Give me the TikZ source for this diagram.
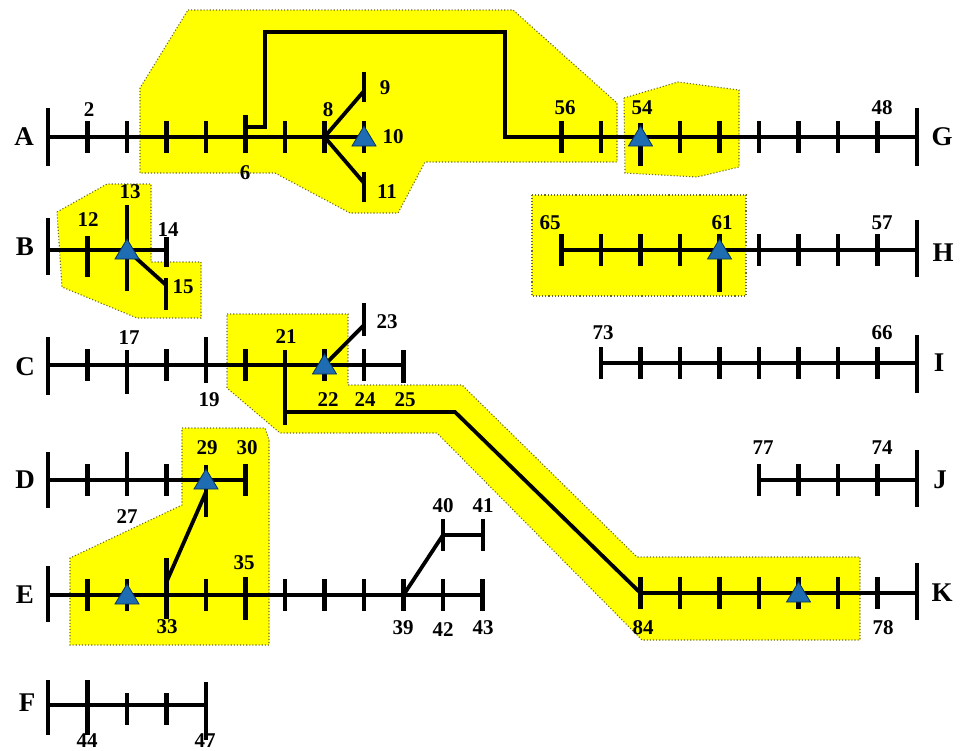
\documentclass[tikz,border=0pt]{standalone}
\usepackage{fontspec}
\setmainfont{Liberation Serif}
\usetikzlibrary{calc}
\definecolor{genblue}{RGB}{30,108,178}
\definecolor{genedge}{RGB}{10,50,90}
\definecolor{zoneedge}{RGB}{105,105,40}
\definecolor{zonefill}{RGB}{255,255,0}
\begin{document}
\begin{tikzpicture}[x=1pt,y=-1pt,
  feeder/.style={line width=3.8pt, black, line join=miter},
  tickmark/.style={line width=4.6pt, black},
  zone/.style={fill=zonefill, draw=zoneedge, dotted, line width=1.1pt},
  gen/.style={fill=genblue, draw=genedge, line width=0.8pt, line join=miter},
  num/.style={font=\fontsize{21}{21}\selectfont\bfseries, inner sep=0pt},
  busname/.style={font=\fontsize{27}{27}\selectfont\bfseries, inner sep=0pt}]
\useasboundingbox (0,0) rectangle (965,750);

% tick on a bus point: name, upper offset, lower offset
\newcommand\tk[3]{\draw[tickmark] ($(#1)+(0,#2)$) -- ($(#1)+(0,#3)$);}
\newcommand\rt[1]{\tk{#1}{-16}{16}}
% generator symbol
\newcommand\gensym[1]{\draw[gen] ($(#1)+(0,-11)$) -- ($(#1)+(12,9)$) -- ($(#1)+(-12,9)$) -- cycle;}

% ---------- bus grid points ----------
\foreach \k in {0,...,22} {
  \coordinate (A\k) at ({48+39.5*\k},137);
  \coordinate (B\k) at ({48+39.5*\k},250);
  \coordinate (H\k) at ({48+39.5*\k},250);
  \coordinate (C\k) at ({48+39.5*\k},365);
  \coordinate (I\k) at ({48+39.5*\k},363);
  \coordinate (D\k) at ({48+39.5*\k},480);
  \coordinate (J\k) at ({48+39.5*\k},480);
  \coordinate (E\k) at ({48+39.5*\k},595);
  \coordinate (K\k) at ({48+39.5*\k},593);
  \coordinate (F\k) at ({48+39.5*\k},705);
}
% lateral branch points
\coordinate (n9) at (364,87);
\coordinate (n9j) at (364,91);
\coordinate (n11) at (364,187);
\coordinate (n11j) at (364,183);
\coordinate (s1) at (246,127);
\coordinate (s2) at (265,32);
\coordinate (Gjoin) at (505,137);
\coordinate (n15) at (166,294);
\coordinate (n15j) at (166,285);
\coordinate (n23) at (364,320);
\coordinate (n23j) at (364,325);
\coordinate (br1) at (286,412);
\coordinate (br2) at (455,412);
\coordinate (e33) at (166,583);
\coordinate (d29) at (206,492);
\coordinate (n40) at (443,535);
\coordinate (n41) at (483,535);

% ---------- shaded zones ----------
\path[zone] (188,10) -- (513,10) -- (617,103) -- (617,162) -- (425,162) -- (398,213)
  -- (350,213) -- (275,173) -- (140,173) -- (140,88) -- cycle;
\path[zone] (624,98) -- (678,82) -- (739,90) -- (739,167) -- (697,177) -- (625,173) -- cycle;
\path[zone] (57,212) -- (107,184) -- (151,184) -- (151,262) -- (201,262) -- (201,318)
  -- (137,318) -- (62,287) -- cycle;
\path[zone] (227,314) -- (348,314) -- (348,385) -- (462,385) -- (637,557) -- (860,557)
  -- (860,640) -- (642,640) -- (437,433) -- (280,433) -- (227,388) -- cycle;
\path[zone] (182,428) -- (265,428) -- (269,440) -- (269,645) -- (70,645) -- (70,558)
  -- (182,505) -- cycle;
\path[zone] (532,195) -- (746,195) -- (746,296) -- (532,296) -- cycle;

% ---------- feeders ----------
% A / G
\draw[feeder] (A0) -- (A8);
\draw[feeder] (A7) -- (n9j);
\draw[feeder] (A7) -- (n11j);
\draw[feeder] (s1) -| (s2) -| (Gjoin) -- (A22);
\tk{A0}{-29}{29}
\foreach \k in {1,...,4,6,7,8} {\rt{A\k}}
\tk{A5}{-22}{16}
\tk{n9}{-15}{15}
\tk{n11}{-15}{15}
\foreach \k in {13,14,16,17,...,21} {\rt{A\k}}
\tk{A15}{-14}{29}
\tk{A22}{-29}{29}
% B
\draw[feeder] (B0) -- (B3);
\draw[feeder] (B2) -- (n15j);
\tk{B0}{-32}{25}
\tk{B1}{-14}{27}
\tk{B2}{-45}{41}
\tk{B3}{-13}{17}
\tk{n15}{-16}{16}
% H
\draw[feeder] (H13) -- (H22);
\foreach \k in {13,...,16,18,19,20,21} {\rt{H\k}}
\tk{H17}{-16}{42}
\tk{H22}{-30}{27}
% C
\draw[feeder] (C0) -- (C9);
\draw[feeder] (C7) -- (n23j);
\draw[feeder] (br1) -- (br2) -- (K15);
\tk{C0}{-28}{30}
\foreach \k in {1,3,5,7,8} {\rt{C\k}}
\tk{C2}{-15}{29}
\tk{C4}{-28}{18}
\tk{C6}{-15}{60}
\tk{C9}{-15}{18}
\tk{n23}{-17}{16}
% I
\draw[feeder] (I14) -- (I22);
\foreach \k in {14,...,21} {\rt{I\k}}
\tk{I22}{-28}{30}
% D
\draw[feeder] (D0) -- (D5);
\tk{D0}{-28}{28}
\rt{D1}
\tk{D2}{-28}{16}
\rt{D3}
\tk{D4}{-15}{37}
\rt{D5}
% J
\draw[feeder] (J18) -- (J22);
\foreach \k in {18,...,21} {\rt{J\k}}
\tk{J22}{-30}{27}
% E
\draw[feeder] (E0) -- (E11);
\draw[feeder] (e33) -- (d29);
\draw[feeder] (E9) -- (n40) -- (n41);
\tk{E0}{-29}{27}
\foreach \k in {1,2,4,6,7,...,11} {\rt{E\k}}
\tk{E3}{-37}{24}
\tk{E5}{-18}{25}
\tk{n40}{-16}{16}
\tk{n41}{-16}{16}
% K
\draw[feeder] (K15) -- (K22);
\foreach \k in {15,...,21} {\rt{K\k}}
\tk{K22}{-30}{27}
% F
\draw[feeder] (F0) -- (F4);
\tk{F0}{-25}{30}
\tk{F1}{-25}{30}
\tk{F2}{-12}{20}
\tk{F3}{-12}{20}
\tk{F4}{-23}{35}

% ---------- generators ----------
\gensym{A8}
\gensym{A15}
\gensym{B2}
\gensym{H17}
\gensym{C7}
\gensym{D4}
\gensym{E2}
\gensym{K19}

% ---------- bus names ----------
\node[busname] (nA) at (24,137) {A};
\node[busname] (nB) at (25,247) {B};
\node[busname] (nC) at (25,367) {C};
\node[busname] (nD) at (25,480) {D};
\node[busname] (nE) at (25,595) {E};
\node[busname] (nF) at (27,703) {F};
\node[busname] (nG) at (942,137) {G};
\node[busname] (nH) at (943,253) {H};
\node[busname] (nI) at (939,363) {I};
\node[busname] (nJ) at (940,480) {J};
\node[busname] (nK) at (942,593) {K};

% ---------- node numbers ----------
\node[num] (l2) at (89,110) {2};
\node[num] (l6) at (245,173) {6};
\node[num] (l8) at (328,110) {8};
\node[num] (l9) at (385,88) {9};
\node[num] (l10) at (393,137) {10};
\node[num] (l11) at (387,192) {11};
\node[num] (l56) at (565,108) {56};
\node[num] (l54) at (642,108) {54};
\node[num] (l48) at (882,108) {48};
\node[num] (l12) at (88,220) {12};
\node[num] (l13) at (130,192) {13};
\node[num] (l14) at (168,230) {14};
\node[num] (l15) at (183,287) {15};
\node[num] (l65) at (550,223) {65};
\node[num] (l61) at (722,223) {61};
\node[num] (l57) at (882,223) {57};
\node[num] (l73) at (603,333) {73};
\node[num] (l66) at (882,333) {66};
\node[num] (l17) at (129,338) {17};
\node[num] (l19) at (209,400) {19};
\node[num] (l21) at (286,337) {21};
\node[num] (l22) at (328,400) {22};
\node[num] (l24) at (365,400) {24};
\node[num] (l25) at (405,400) {25};
\node[num] (l23) at (387,322) {23};
\node[num] (l27) at (127,517) {27};
\node[num] (l29) at (207,448) {29};
\node[num] (l30) at (247,448) {30};
\node[num] (l77) at (763,448) {77};
\node[num] (l74) at (882,448) {74};
\node[num] (l35) at (244,563) {35};
\node[num] (l33) at (167,627) {33};
\node[num] (l39) at (403,628) {39};
\node[num] (l42) at (443,630) {42};
\node[num] (l43) at (483,628) {43};
\node[num] (l40) at (443,506) {40};
\node[num] (l41) at (483,506) {41};
\node[num] (l84) at (643,628) {84};
\node[num] (l78) at (883,628) {78};
\node[num] (l44) at (87,741) {44};
\node[num] (l47) at (205,741) {47};
\end{tikzpicture}
\end{document}
